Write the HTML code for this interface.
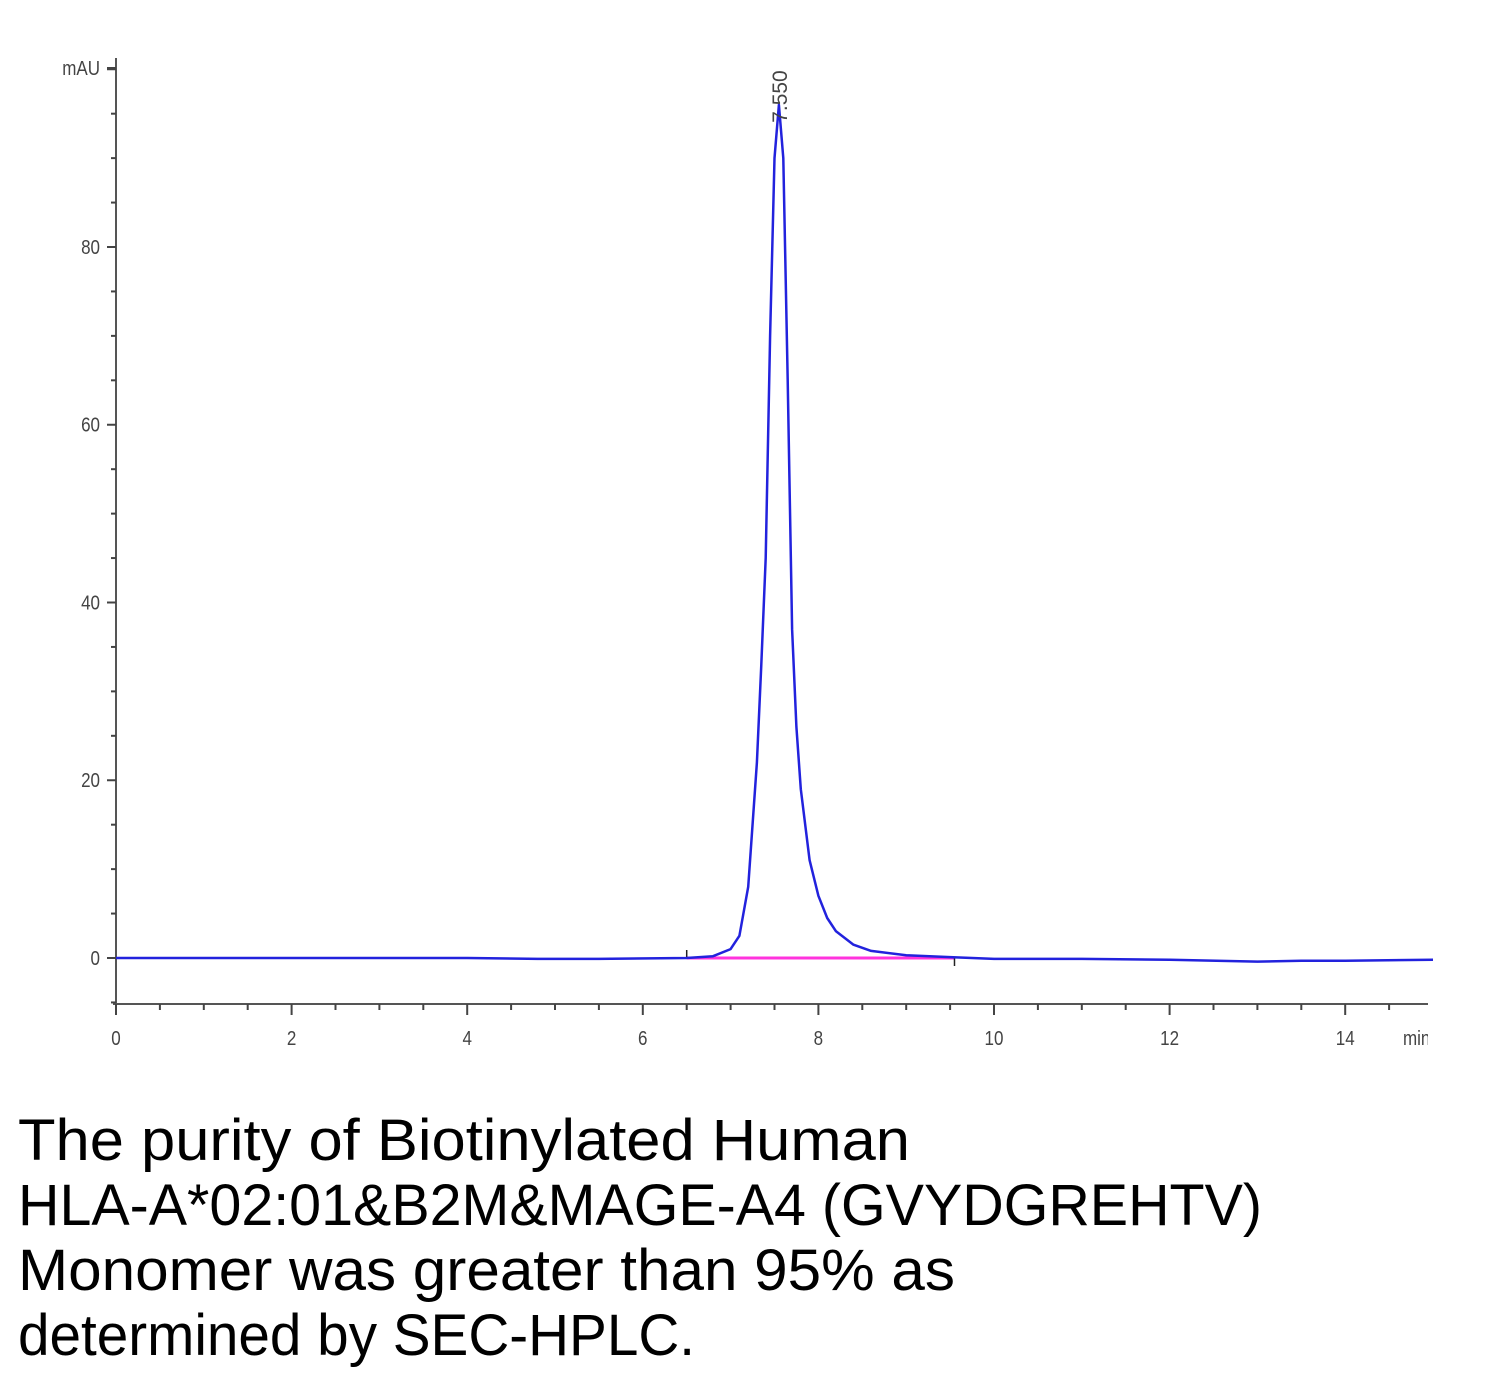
<!DOCTYPE html>
<html><head><meta charset="utf-8"><style>
html,body{margin:0;padding:0;background:#fff;width:1500px;height:1384px;overflow:hidden}
svg{display:block}
</style></head><body>
<svg id="chart" width="1500" height="1384" viewBox="0 0 1500 1384" xmlns="http://www.w3.org/2000/svg" font-family="Liberation Sans, sans-serif">
<g id="axes"></g>
<g id="series"></g>
<g font-size="58" fill="#000">
<text x="18" y="1160" textLength="892" lengthAdjust="spacingAndGlyphs">The purity of Biotinylated Human</text>
<text x="18" y="1225" textLength="1244" lengthAdjust="spacingAndGlyphs">HLA-A*02:01&amp;B2M&amp;MAGE-A4 (GVYDGREHTV)</text>
<text x="18" y="1290" textLength="937" lengthAdjust="spacingAndGlyphs">Monomer was greater than 95% as</text>
<text x="18" y="1355" textLength="677" lengthAdjust="spacingAndGlyphs">determined by SEC-HPLC.</text>
</g>
</svg>
<script>
const times=[0,2,4,4.8,5.5,6.5,6.8,7.0,7.1,7.2,7.3,7.35,7.4,7.45,7.5,7.55,7.6,7.65,7.7,7.75,7.8,7.9,8.0,8.1,8.2,8.4,8.6,9.0,9.5,10,11,12,13,13.5,14,15];
const signal=[0,0,0,-0.1,-0.1,0,0.2,1,2.5,8,22,33,45,70,90,96,90,65,37,26,19,11,7,4.5,3,1.5,0.8,0.3,0.1,-0.1,-0.1,-0.2,-0.4,-0.3,-0.3,-0.2];
const xTicks=[0,2,4,6,8,10,12,14];
const yTicks=[0,20,40,60,80];
const peakLabel="7.550";
const peakTime=7.55, peakValue=96;
const baselineStart=6.5, baselineEnd=9.55;
const NS='http://www.w3.org/2000/svg';
const X=t=>116+t*87.8;
const Y=v=>958-v*8.8875;
function mk(tag,attrs,parent,text){const e=document.createElementNS(NS,tag);for(const k in attrs)e.setAttribute(k,attrs[k]);if(text!=null)e.textContent=text;parent.appendChild(e);return e;}
const ax=document.getElementById('axes'), se=document.getElementById('series');
let e=mk('line',{x1:116,y1:58,x2:116,y2:1004,stroke:'#555','stroke-width':2},ax);


e=mk('line',{x1:113,y1:1004,x2:1428,y2:1004,stroke:'#555','stroke-width':2},ax);


for(let v=-5;v<=100;v+=5){const major=v%20===0;const yy=Y(v);
 e=mk('line',{x1:major?107:111,y1:yy,x2:116,y2:yy,stroke:'#444','stroke-width':2},ax);
 
 }
yTicks.forEach(v=>{e=mk('text',{x:100,y:Y(v)+7,'font-size':20,'text-anchor':'end',fill:'#444',transform:`translate(${100*0.15},0) scale(0.85,1)`},ax,String(v));
 
 });
e=mk('line',{x1:107,y1:68,x2:116,y2:68,stroke:'#444','stroke-width':2},ax);


e=mk('text',{x:100,y:75,'font-size':20,'text-anchor':'end',fill:'#444',transform:'translate(15,0) scale(0.85,1)'},ax,'mAU');


for(let t=0;t<=15;t+=0.5){const major=t%2===0;const xx=X(t);if(xx>1428)break;
 e=mk('line',{x1:xx,y1:1004,x2:xx,y2:major?1015:1010,stroke:'#444','stroke-width':2},ax);
 
 }
xTicks.forEach(t=>{e=mk('text',{x:X(t)/0.85,y:1045,'font-size':20,'text-anchor':'middle',fill:'#444',transform:'scale(0.85,1)'},ax,String(t));
 
 });
e=mk('text',{x:1403/0.85,y:1045,'font-size':20,fill:'#444',transform:'scale(0.85,1)'},ax,'min');


e=mk('rect',{x:1428,y:1020,width:30,height:40,fill:'#fff'},ax);


e=mk('line',{x1:X(baselineStart),y1:Y(0),x2:X(baselineEnd),y2:Y(0),stroke:'#ff33dd','stroke-width':3},se);


e=mk('line',{x1:X(baselineStart),y1:Y(0)-8,x2:X(baselineStart),y2:Y(0),stroke:'#222','stroke-width':1.5},se);


e=mk('line',{x1:X(baselineEnd),y1:Y(0),x2:X(baselineEnd),y2:Y(0)+8,stroke:'#222','stroke-width':1.5},se);


const pts=times.map((t,i)=>X(t).toFixed(1)+','+Y(signal[i]).toFixed(1)).join(' ');
e=mk('polyline',{points:pts,fill:'none',stroke:'#2222dd','stroke-width':2.5,'stroke-linejoin':'round'},se);


const px=X(peakTime)+8, py=Y(peakValue)+18;
e=mk('text',{x:px,y:py,'font-size':21,fill:'#444',transform:`rotate(-90 ${px} ${py})`},se,peakLabel);


</script>
</body></html>
